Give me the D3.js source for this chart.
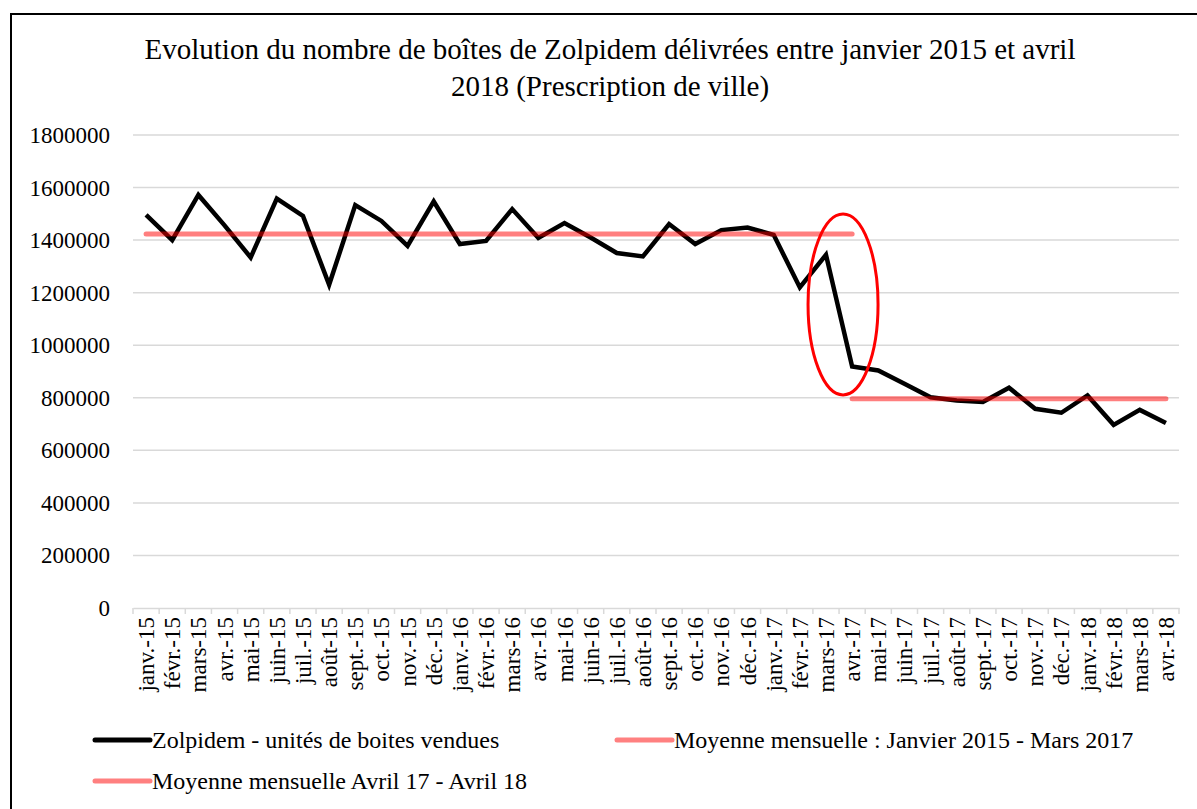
<!DOCTYPE html>
<html><head><meta charset="utf-8">
<script src="https://cdn.jsdelivr.net/npm/d3@7"></script>
<style>
html,body{margin:0;padding:0;background:#fff;}
</style></head>
<body>
<svg id="chart" width="1197" height="809"></svg>
<script>
const months = ["janv.-15","févr.-15","mars-15","avr.-15","mai-15","juin-15","juil.-15","août-15","sept.-15","oct.-15","nov.-15","déc.-15",
"janv.-16","févr.-16","mars-16","avr.-16","mai-16","juin-16","juil.-16","août-16","sept.-16","oct.-16","nov.-16","déc.-16",
"janv.-17","févr.-17","mars-17","avr.-17","mai-17","juin-17","juil.-17","août-17","sept.-17","oct.-17","nov.-17","déc.-17",
"janv.-18","févr.-18","mars-18","avr.-18"];
const boites = [1496000,1400000,1572000,1456000,1334000,1558000,1492000,1230000,1533000,1473000,1378000,1547000,
1385000,1397000,1518000,1408000,1465000,1410000,1351000,1338000,1461000,1385000,1438000,1448000,
1420000,1220000,1344000,919000,904000,853000,802000,790000,784000,838000,758000,743000,
809000,697000,754000,704000];
const moyenne1 = 1423000;   // Janvier 2015 - Mars 2017
const moyenne1Range = ["janv.-15","avr.-17"];
const moyenne2 = 796000;    // Avril 17 - Avril 18
const moyenne2Range = ["avr.-17","avr.-18"];
const yTicks = [0,200000,400000,600000,800000,1000000,1200000,1400000,1600000,1800000];
const titleLines = ["Evolution du nombre de boîtes de Zolpidem délivrées entre janvier 2015 et avril","2018 (Prescription de ville)"];
const legendItems = ["Zolpidem - unités de boites vendues","Moyenne mensuelle : Janvier 2015 - Mars 2017","Moyenne mensuelle Avril 17 - Avril 18"];

const FONT = "'Liberation Serif', 'DejaVu Serif', serif";
const svg = d3.select("#chart");
// frame
svg.append("rect").attr("x",11).attr("y",14).attr("width",1200).attr("height",820)
  .attr("fill","#fff").attr("stroke","#000").attr("stroke-width",2);

const x = d3.scaleBand().domain(months).range([133,1179]).padding(0);
const xc = m => x(m) + x.bandwidth()/2;
const y = d3.scaleLinear().domain([0,1800000]).range([608,135]);

// gridlines
svg.append("g").selectAll("line").data(yTicks.filter(d=>d>0)).join("line")
  .attr("x1",133).attr("x2",1179).attr("y1",d=>y(d)).attr("y2",d=>y(d))
  .attr("stroke","#D9D9D9").attr("stroke-width",1.5);

// y axis labels
svg.append("g").selectAll("text").data(yTicks).join("text")
  .attr("x",110).attr("y",d=>y(d)+8).attr("text-anchor","end")
  .style("font-family",FONT).style("font-size","23px").attr("fill","#000").text(d=>d3.format("d")(d));

// x axis
const xAxis = d3.axisBottom(x).tickSize(0).tickFormat(d=>d);
const gx = svg.append("g").attr("transform","translate(0,608)").call(xAxis);
gx.attr("font-family",null).attr("font-size",null);
gx.select(".domain").attr("stroke","#D9D9D9").attr("stroke-width",1.5);
gx.selectAll(".tick text").attr("transform","rotate(-90)")
  .attr("x",-9).attr("y",0).attr("dy","0.35em").attr("text-anchor","end")
  .style("font-size","23px").style("font-family",FONT).attr("fill","#000");
// tick marks between categories
const bounds = months.map(m=>x(m)).concat([x(months[months.length-1])+x.bandwidth()]);
svg.append("g").selectAll("line").data(bounds).join("line")
  .attr("x1",d=>d).attr("x2",d=>d).attr("y1",608).attr("y2",614)
  .attr("stroke","#D9D9D9").attr("stroke-width",1.5);

// main line
const line = d3.line().x((d,i)=>xc(months[i])).y(d=>y(d));
svg.append("path").datum(boites).attr("d",line).attr("fill","none")
  .attr("stroke","#000").attr("stroke-width",4.5).attr("stroke-linejoin","miter");

// mean lines
function meanLine(val, range){
  svg.append("line").attr("x1",xc(range[0])).attr("x2",xc(range[1]))
    .attr("y1",y(val)).attr("y2",y(val))
    .attr("stroke","rgba(255,0,0,0.5)").attr("stroke-width",5).attr("stroke-linecap","round");
}
meanLine(moyenne1, moyenne1Range);
meanLine(moyenne2, moyenne2Range);

// red ellipse annotation
const ecx = (xc("mars-17")+xc("avr.-17"))/2 + 4;
svg.append("ellipse").attr("cx",ecx).attr("cy",y(1155000))
  .attr("rx",35).attr("ry",y(0)-y(344000))
  .attr("fill","none").attr("stroke","#FF0000").attr("stroke-width",3);

// title
svg.append("g").selectAll("text").data(titleLines).join("text")
  .attr("x",610).attr("y",(d,i)=>59+i*37).attr("text-anchor","middle")
  .style("font-family",FONT).style("font-size","29px").attr("fill","#000").text(d=>d);

// legend
const legendPos = [{x:95,y:740,c:"#000"},{x:617,y:740,c:"#FF8080"},{x:95,y:781,c:"#FF8080"}];
const lg = svg.append("g");
legendItems.forEach((t,i)=>{
  const p = legendPos[i];
  lg.append("line").attr("x1",p.x).attr("x2",p.x+55).attr("y1",p.y).attr("y2",p.y)
    .attr("stroke",p.c).attr("stroke-width",5).attr("stroke-linecap","round");
  lg.append("text").attr("x",p.x+57).attr("y",p.y+8)
    .style("font-family",FONT).style("font-size","24px").attr("fill","#000").text(t);
});
</script>
</body></html>
